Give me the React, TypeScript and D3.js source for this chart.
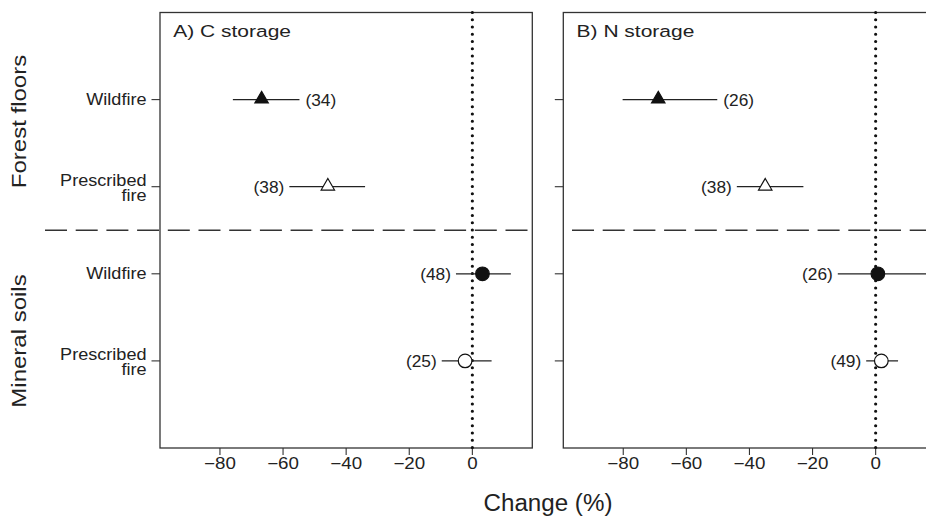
import React from "react";
import * as d3 from "d3";

// ---- data ----
const rowLabels = [["Wildfire"], ["Prescribed", "fire"], ["Wildfire"], ["Prescribed", "fire"]];
const groupLabels = ["Forest floors", "Mineral soils"];
const panelTitles = ["A) C storage", "B) N storage"];
const xTicks = [-80, -60, -40, -20, 0];
const markerShape = ["triangle", "triangle", "circle", "circle"];
const markerFilled = [true, false, true, false];

const cMean = [-66.8, -45.8, 3.2, -2.3];
const cLow = [-75.9, -58, -5.2, -9.7];
const cHigh = [-54.8, -34, 12.2, 6.1];
const cN = [34, 38, 48, 25];
const cSide = ["right", "left", "left", "left"];

const nMean = [-68.9, -35, 0.7, 1.8];
const nLow = [-80.2, -44, -12, -3];
const nHigh = [-50.2, -22.9, 18, 7.1];
const nN = [26, 38, 26, 49];
const nSide = ["right", "left", "left", "left"];

const panels = [
  { title: panelTitles[0], mean: cMean, low: cLow, high: cHigh, n: cN, side: cSide },
  { title: panelTitles[1], mean: nMean, low: nLow, high: nHigh, n: nN, side: nSide },
];

const FONT = "'Liberation Sans', Arial, Helvetica, sans-serif";
const INK = "#222";

function T({ x, y, sx = 1, rot = 0, anchor = "start", size, children }: any) {
  return (
    <text
      transform={`translate(${x},${y}) rotate(${rot}) scale(${sx},1)`}
      textAnchor={anchor}
      fontSize={size}
      fontFamily={FONT}
      fill={INK}
    >
      {children}
    </text>
  );
}

export default function App() {
  const W = 926, H = 516;
  const top = 12.5, bottom = 448;
  const panelX = [[160, 532.3], [563.3, 935.6]];
  const domain: [number, number] = [-99, 19];
  const y = d3.scaleLinear().domain([0, 5]).range([top, bottom]);
  const fmt = d3.format("d");
  const triangle = d3.symbol().type(d3.symbolTriangle).size(78)()!;

  return (
    <svg width={W} height={H} style={{ position: "absolute", left: 0, top: 0, background: "#fff" }}>
      <rect x={0} y={0} width={W} height={H} fill="#fff" />
      {/* group labels */}
      <T x={26} y={121.5} rot={-90} anchor="middle" size={20} sx={1.2}>{groupLabels[0]}</T>
      <T x={26} y={341} rot={-90} anchor="middle" size={20} sx={1.2}>{groupLabels[1]}</T>
      {/* row labels */}
      {rowLabels.map((lines, i) => {
        const yy = y(i + 1);
        if (lines.length === 1)
          return <T key={i} x={146.5} y={yy + 5.5} anchor="end" size={16.3} sx={1.11}>{lines[0]}</T>;
        return (
          <g key={i}>
            <T x={146.5} y={yy - 1} anchor="end" size={16.3} sx={1.11}>{lines[0]}</T>
            <T x={146.5} y={yy + 14} anchor="end" size={16.3} sx={1.11}>{lines[1]}</T>
          </g>
        );
      })}
      {panels.map((p, pi) => {
        const [x0, x1] = panelX[pi];
        const x = d3.scaleLinear().domain(domain).range([x0, x1]);
        return (
          <g key={pi}>
            {/* dashed separator */}
            <line
              x1={pi === 0 ? 45 : x0}
              x2={x1}
              y1={y(2.5)}
              y2={y(2.5)}
              stroke="#333"
              strokeWidth={1.3}
              strokeDasharray="22,8.7"
              strokeDashoffset={pi === 0 ? 0 : 22}
            />
            {/* frame */}
            <rect x={x0} y={top} width={x1 - x0} height={bottom - top} fill="none" stroke="#333" strokeWidth={1.3} />
            {/* y ticks */}
            {[1, 2, 3, 4].map((k) => (
              <line key={k} x1={x0 - 8.5} x2={x0} y1={y(k)} y2={y(k)} stroke="#333" strokeWidth={1.1} />
            ))}
            {/* x ticks */}
            {xTicks.map((t) => (
              <g key={t}>
                <line x1={x(t)} x2={x(t)} y1={bottom} y2={bottom + 7} stroke="#333" strokeWidth={1.1} />
                <T x={x(t)} y={468.5} anchor="middle" size={16.3} sx={1.15}>{fmt(t)}</T>
              </g>
            ))}
            {/* zero dotted line */}
            <line
              x1={x(0)}
              x2={x(0)}
              y1={top}
              y2={bottom}
              stroke="#111"
              strokeWidth={3.2}
              strokeLinecap="round"
              strokeDasharray="0,7.25"
            />
            {/* title */}
            <T x={x0 + 13.3} y={37.3} size={17.2} sx={1.22}>{p.title}</T>
            {/* estimates */}
            {p.mean.map((m, i) => {
              const yy = y(i + 1);
              const lx = x(p.low[i]);
              const hx = x(p.high[i]);
              const mx = x(m);
              const label = `(${p.n[i]})`;
              return (
                <g key={i}>
                  <line x1={lx} x2={hx} y1={yy} y2={yy} stroke={INK} strokeWidth={1.2} />
                  {markerShape[i] === "triangle" ? (
                    <path
                      d={triangle}
                      transform={`translate(${mx},${yy - 0.5})`}
                      fill={markerFilled[i] ? "#111" : "#fff"}
                      stroke="#111"
                      strokeWidth={1.2}
                    />
                  ) : (
                    <circle
                      cx={mx}
                      cy={yy}
                      r={6.8}
                      fill={markerFilled[i] ? "#111" : "#fff"}
                      stroke="#111"
                      strokeWidth={1.2}
                    />
                  )}
                  {p.side[i] === "right" ? (
                    <T x={hx + 6} y={yy + 6} size={16.5} sx={1.05}>{label}</T>
                  ) : (
                    <T x={lx - 5} y={yy + 6} anchor="end" size={16.5} sx={1.05}>{label}</T>
                  )}
                </g>
              );
            })}
          </g>
        );
      })}
      <T x={548} y={511} anchor="middle" size={23} sx={1.05}>Change (%)</T>
    </svg>
  );
}
